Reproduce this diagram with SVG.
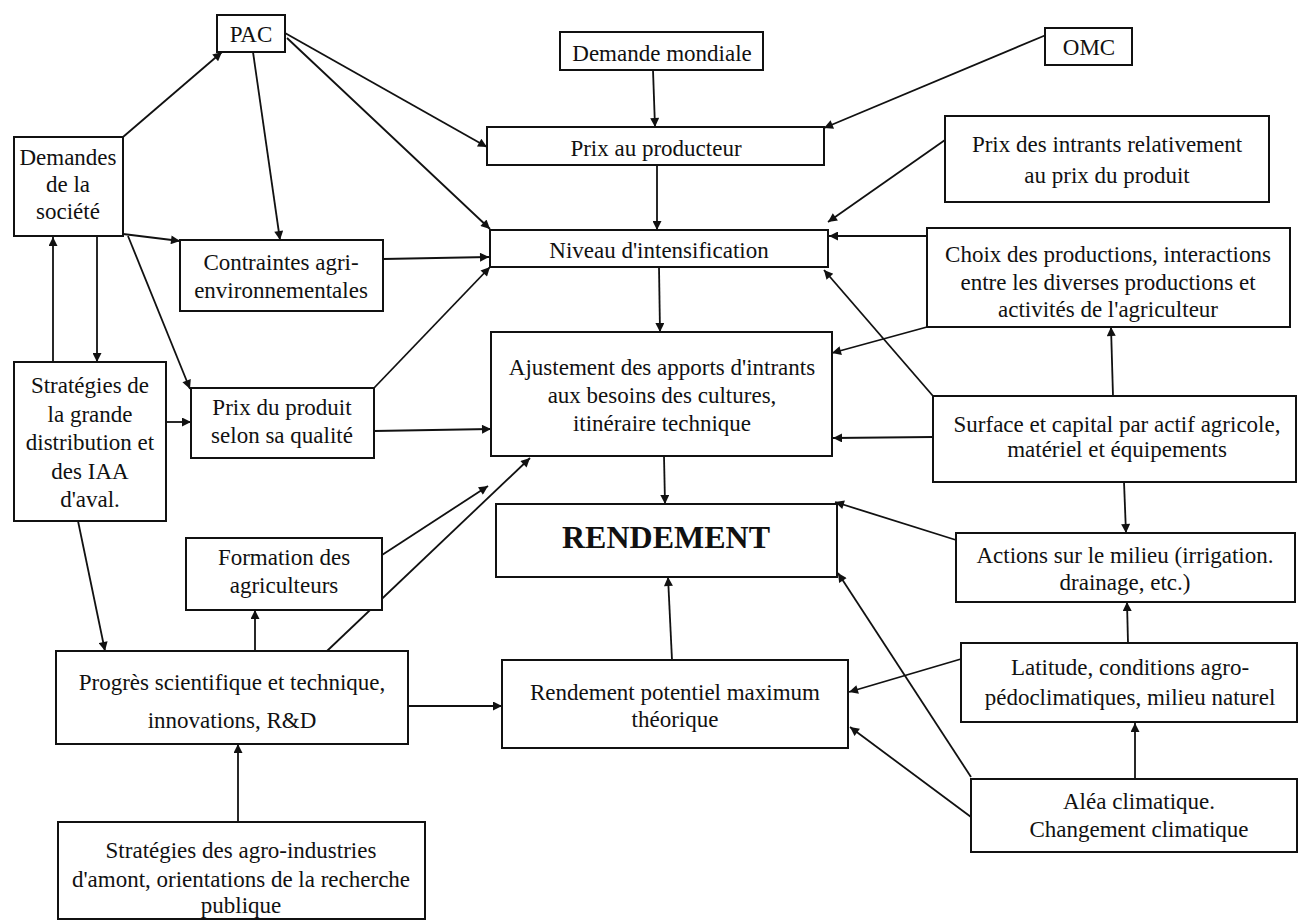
<svg xmlns="http://www.w3.org/2000/svg" width="1299" height="921" viewBox="0 0 1299 921">
<defs>
<marker id="ah" viewBox="0 0 10 10" refX="10" refY="5" markerWidth="12" markerHeight="9" markerUnits="userSpaceOnUse" orient="auto">
<path d="M0,0 L10,5 L0,10 z" fill="#111"/>
</marker>
</defs>
<style>
.box{fill:#fff;stroke:#111;stroke-width:2}
.t{font-family:"Liberation Serif","Times New Roman",serif;font-size:23px;fill:#111;text-anchor:middle}
.big{font-family:"Liberation Serif","Times New Roman",serif;font-size:32px;font-weight:bold;fill:#111;text-anchor:middle}
.c{fill:none;stroke:#111;stroke-width:1.8;marker-end:url(#ah)}
.n{fill:none;stroke:#111;stroke-width:1.8}
</style>
<rect width="1299" height="921" fill="#fff"/>
<g id="connectors">
<line class="c" x1="123" y1="137" x2="222" y2="52"/>
<line class="c" x1="253" y1="52" x2="280" y2="240"/>
<line class="c" x1="285" y1="33" x2="487" y2="147"/>
<line class="c" x1="287" y1="38" x2="490" y2="229"/>
<line class="c" x1="653" y1="70" x2="655" y2="127"/>
<line class="c" x1="1046" y1="35" x2="824" y2="128"/>
<line class="c" x1="657" y1="165" x2="657" y2="230"/>
<line class="c" x1="945" y1="140" x2="828" y2="222"/>
<line class="c" x1="927" y1="236" x2="829" y2="236"/>
<line class="c" x1="933" y1="396" x2="824" y2="270"/>
<line class="c" x1="383" y1="259" x2="489" y2="257"/>
<line class="c" x1="374" y1="388" x2="490" y2="267"/>
<line class="c" x1="123" y1="234" x2="180" y2="241"/>
<line class="c" x1="97" y1="236" x2="97" y2="362"/>
<line class="c" x1="53" y1="362" x2="53" y2="237"/>
<line class="c" x1="128" y1="236" x2="190" y2="389"/>
<line class="c" x1="166" y1="422" x2="191" y2="422"/>
<line class="c" x1="374" y1="431" x2="491" y2="429"/>
<line class="c" x1="659" y1="267" x2="660" y2="332"/>
<line class="c" x1="927" y1="327" x2="832" y2="353"/>
<line class="c" x1="933" y1="437" x2="833" y2="438"/>
<line class="c" x1="1113" y1="396" x2="1111" y2="327"/>
<line class="c" x1="1124" y1="482" x2="1126" y2="533"/>
<line class="c" x1="664" y1="456" x2="665" y2="504"/>
<line class="c" x1="956" y1="540" x2="835" y2="502"/>
<line class="c" x1="382" y1="555" x2="488" y2="486"/>
<line class="c" x1="327" y1="651" x2="530" y2="458"/>
<line class="c" x1="255" y1="651" x2="255" y2="610"/>
<line class="c" x1="78" y1="521" x2="105" y2="651"/>
<line class="c" x1="238" y1="822" x2="238" y2="744"/>
<line class="c" x1="408" y1="706" x2="502" y2="706"/>
<line class="c" x1="672" y1="660" x2="668" y2="577"/>
<line class="c" x1="961" y1="659" x2="849" y2="692"/>
<line class="c" x1="971" y1="817" x2="850" y2="727"/>
<line class="c" x1="971" y1="777" x2="838" y2="573"/>
<line class="c" x1="1128" y1="643" x2="1127" y2="602"/>
<line class="c" x1="1135" y1="780" x2="1135" y2="723"/>
</g>
<g id="pac"><rect class="box" x="217" y="15" width="68" height="37"/><text class="t" x="251" y="42">PAC</text></g>
<g id="demandes-societe"><rect class="box" x="14" y="137" width="109" height="99"/>
<text class="t" x="68" y="165">Demandes</text><text class="t" x="68" y="192">de la</text><text class="t" x="68" y="219">société</text></g>
<g id="contraintes"><rect class="box" x="180" y="240" width="203" height="71"/>
<text class="t" x="281" y="270">Contraintes agri-</text><text class="t" x="281" y="298">environnementales</text></g>
<g id="demande-mondiale"><rect class="box" x="560" y="32" width="203" height="38"/><text class="t" x="662" y="61">Demande mondiale</text></g>
<g id="prix-producteur"><rect class="box" x="487" y="127" width="337" height="38"/><text class="t" x="656" y="156">Prix au producteur</text></g>
<g id="niveau"><rect class="box" x="490" y="230" width="338" height="37"/><text class="t" x="659" y="258">Niveau d'intensification</text></g>
<g id="omc"><rect class="box" x="1045" y="28" width="87" height="37"/><text class="t" x="1089" y="55">OMC</text></g>
<g id="prix-intrants"><rect class="box" x="945" y="116" width="324" height="86"/>
<text class="t" x="1107" y="152">Prix des intrants relativement</text><text class="t" x="1107" y="183">au prix du produit</text></g>
<g id="choix"><rect class="box" x="927" y="228" width="363" height="99"/>
<text class="t" x="1108" y="262">Choix des productions, interactions</text><text class="t" x="1108" y="290">entre les diverses productions et</text><text class="t" x="1108" y="317">activités de l'agriculteur</text></g>
<g id="strategies-distribution"><rect class="box" x="14" y="362" width="152" height="159"/>
<text class="t" x="90" y="393">Stratégies de</text><text class="t" x="90" y="422">la grande</text><text class="t" x="90" y="450">distribution et</text><text class="t" x="90" y="479">des IAA</text><text class="t" x="90" y="507">d'aval.</text></g>
<g id="prix-produit"><rect class="box" x="191" y="388" width="183" height="70"/>
<text class="t" x="282" y="415">Prix du produit</text><text class="t" x="282" y="443">selon sa qualité</text></g>
<g id="formation"><rect class="box" x="186" y="538" width="196" height="72"/>
<text class="t" x="284" y="565">Formation des</text><text class="t" x="284" y="593">agriculteurs</text></g>
<g id="ajustement"><rect class="box" x="491" y="332" width="341" height="124"/>
<text class="t" x="662" y="375">Ajustement des apports d'intrants</text><text class="t" x="662" y="403">aux besoins des cultures,</text><text class="t" x="662" y="431">itinéraire technique</text></g>
<g id="rendement"><rect class="box" x="496" y="504" width="341" height="73"/><text class="big" x="666" y="548">RENDEMENT</text></g>
<g id="surface"><rect class="box" x="933" y="396" width="363" height="86"/>
<text class="t" x="1117" y="432">Surface et capital par actif agricole,</text><text class="t" x="1117" y="457">matériel et équipements</text></g>
<g id="actions-milieu"><rect class="box" x="956" y="533" width="339" height="69"/>
<text class="t" x="1125" y="563">Actions sur le milieu (irrigation.</text><text class="t" x="1125" y="590">drainage, etc.)</text></g>
<g id="progres"><rect class="box" x="56" y="651" width="352" height="93"/>
<text class="t" x="232" y="690">Progrès scientifique et technique,</text><text class="t" x="232" y="728">innovations, R&amp;D</text></g>
<g id="strategies-agro"><rect class="box" x="58" y="822" width="367" height="97"/>
<text class="t" x="241" y="858">Stratégies des agro-industries</text><text class="t" x="241" y="887">d'amont, orientations de la recherche</text><text class="t" x="241" y="913">publique</text></g>
<g id="rendement-potentiel"><rect class="box" x="502" y="660" width="346" height="88"/>
<text class="t" x="675" y="700">Rendement potentiel maximum</text><text class="t" x="675" y="727">théorique</text></g>
<g id="latitude"><rect class="box" x="961" y="643" width="336" height="79"/>
<text class="t" x="1130" y="675">Latitude, conditions agro-</text><text class="t" x="1130" y="705">pédoclimatiques, milieu naturel</text></g>
<g id="alea"><rect class="box" x="971" y="779" width="326" height="73"/>
<text class="t" x="1139" y="809">Aléa climatique.</text><text class="t" x="1139" y="837">Changement climatique</text></g>
</svg>
